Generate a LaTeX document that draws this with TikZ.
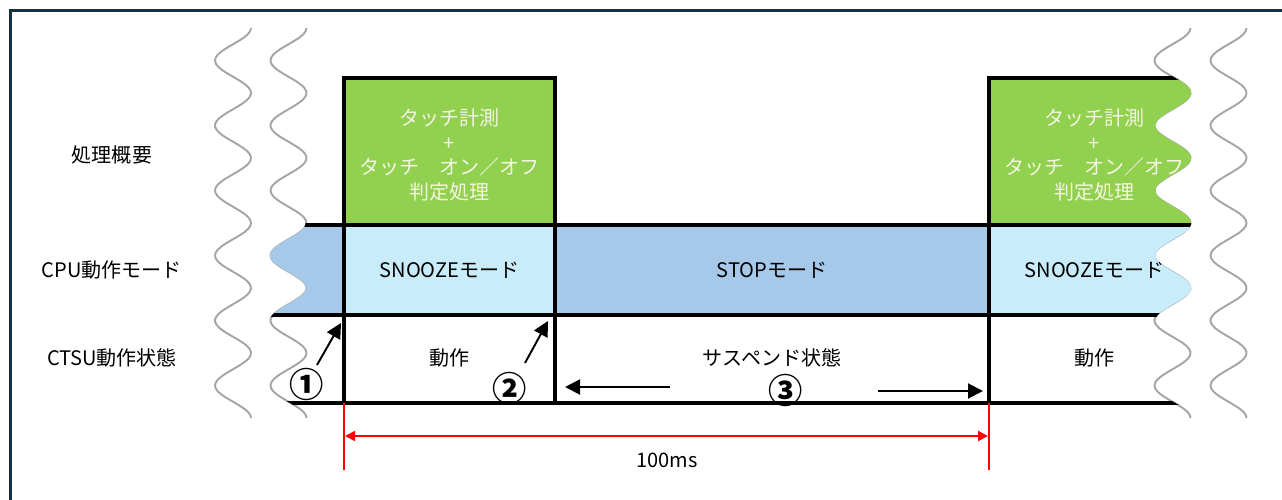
\documentclass[tikz,border=0pt]{standalone}
\usepackage{fontspec}
\setmainfont{Noto Sans CJK JP}
\usetikzlibrary{positioning,calc,arrows.meta}

\definecolor{touchgreen}{RGB}{146,208,80}
\definecolor{snoozeblue}{RGB}{201,236,250}
\definecolor{stopblue}{RGB}{166,201,233}
\definecolor{framenavy}{RGB}{23,48,64}
\definecolor{wavegray}{RGB}{165,165,165}
\definecolor{greentext}{RGB}{245,245,228}

\begin{document}
\begin{tikzpicture}[
    x=0.02cm, y=-0.02cm,
    every node/.style={font=\fontsize{11.4}{14}\selectfont, inner sep=0pt},
    wave/.style={draw=wavegray, line width=1.1pt},
    grid/.style={line width=2pt, black},
    meas/.style={text=greentext, align=center},
    num/.style={font=\fontsize{19.5}{19.5}\selectfont\bfseries},
    pointer/.style={line width=1.1pt, -{Triangle[length=0.3cm,width=0.3cm]}},
    span/.style={line width=1.1pt, red, {Triangle[length=0.2cm,width=0.2cm]}-{Triangle[length=0.2cm,width=0.2cm]}},
    redline/.style={line width=1.2pt, red}
]
\useasboundingbox (0,0) rectangle (1282,500);

% outer frame
\draw[line width=1.8pt, framenavy] (10.5,500) -- (10.5,10.5) -- (1282,10.5);

% row labels
\node (sumLab) at (112,155) {処理概要};
\node (cpuLab) at (112,270) {CPU動作モード};
\node (ctsuLab) at (112,358) {CTSU動作状態};

% break marks (period 65, 360/65 = 5.53846)
\foreach \c in {233,288.5,1172.5,1228.5} {
    \draw[wave] plot[domain=28:418, samples=131, variable=\t] ({\c+18*cos(5.53846*(\t-28))}, \t);
}

% timing chart, cut by the break marks
\begin{scope}
\clip plot[domain=60:420, samples=121, variable=\t] ({287.7+18*cos(5.53846*(\t-28))}, \t)
   -- plot[domain=420:60, samples=121, variable=\t] ({1173.3+18*cos(5.53846*(\t-28))}, \t) -- cycle;

\fill[touchgreen] (344,78) rectangle (555,225);
\fill[touchgreen] (989,78) rectangle (1260,225);
\fill[stopblue] (250,225) rectangle (1260,315);
\fill[snoozeblue] (344,225) rectangle (555,315);
\fill[snoozeblue] (989,225) rectangle (1260,315);

\draw[grid] (344,403) -- (344,78) -- (555,78) -- (555,403);
\draw[grid] (989,403) -- (989,78) -- (1260,78);
\foreach \y in {225,315,403} {
    \draw[grid] (250,\y) -- (1260,\y);
}

% Phase 1
\node[meas] (measA) at (449.5,155) {タッチ計測\\+\\タッチ　オン／オフ\\判定処理};
\node (snoozeA) at (449.5,270) {SNOOZEモード};
\node (runA) at (449.5,358) {動作};

% STOP
\node (stopMode) at (772,270) {STOPモード};
\node (suspend) at (772,358) {サスペンド状態};

% Phase 2
\node[meas] (measB) at (1094.5,155) {タッチ計測\\+\\タッチ　オン／オフ\\判定処理};
\node (snoozeB) at (1094.5,270) {SNOOZEモード};
\node (runB) at (1094.5,358) {動作};
\end{scope}

% markers
\node[num] (numOne) at (307,384) {①};
\node[num] (numTwo) at (510,388) {②};
\node[num] (numThree) at (786,390) {③};

\coordinate (oneTail) at (317,365);
\coordinate (oneTip) at (341,323);
\coordinate (twoTail) at (525,363);
\coordinate (twoTip) at (548,321);
\coordinate (leftTail) at (670,387);
\coordinate (leftTip) at (565,387);
\coordinate (rightTail) at (878,391);
\coordinate (rightTip) at (983,391);

\draw[pointer] (oneTail) -- (oneTip);
\draw[pointer] (twoTail) -- (twoTip);
\draw[pointer] (leftTail) -- (leftTip);
\draw[pointer] (rightTail) -- (rightTip);

% 100ms period
\coordinate (spanTopL) at (344,403);
\coordinate (spanBotL) at (344,470);
\coordinate (spanTopR) at (989,403);
\coordinate (spanBotR) at (989,470);
\coordinate (spanL) at (345,436);
\coordinate (spanR) at (988,436);
\draw[redline] (spanTopL) -- (spanBotL);
\draw[redline] (spanTopR) -- (spanBotR);
\draw[span] (spanL) -- (spanR);
\node (period) at (667,460) {100ms};

\end{tikzpicture}
\end{document}
